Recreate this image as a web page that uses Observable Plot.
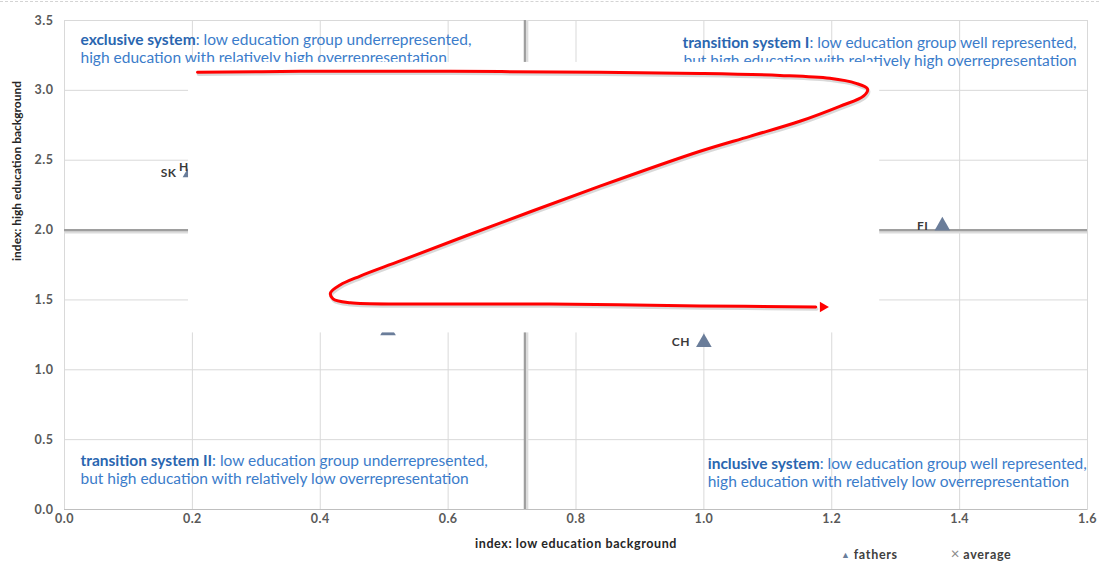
<!DOCTYPE html>
<html><head><meta charset="utf-8">
<script src="https://cdn.jsdelivr.net/npm/d3@7"></script>
<script src="https://cdn.jsdelivr.net/npm/@observablehq/plot@0.6"></script>
<style>
body{margin:0;background:#fff;}
#wrap{position:relative;width:1099px;height:563px;overflow:hidden;}
#topline{position:absolute;left:0;top:1px;width:1099px;border-top:1px dashed #d4d4d4;}
#legend{position:absolute;top:546px;left:841px;font:bold 12.5px Lato, sans-serif;letter-spacing:0.7px;line-height:14px;color:#404040;white-space:nowrap;}
#legend .tri{color:#6a7d9a;font-size:9px;vertical-align:1px;letter-spacing:0;}
#legend .x{color:#8a8a8a;font-size:15px;font-weight:normal;letter-spacing:0;}
</style></head><body>
<div id="wrap"><div id="topline"></div><div id="chart"></div>
<div id="legend"><span class="tri">&#9650;</span> fathers<span style="display:inline-block;width:53px"></span><span class="x">&times;</span> average</div>
</div>
<script>
// ---- data ----
const xTicks = [0, 0.2, 0.4, 0.6, 0.8, 1.0, 1.2, 1.4, 1.6];
const yTicks = [0, 0.5, 1.0, 1.5, 2.0, 2.5, 3.0, 3.5];
const countries = ["SK", "HU", "", "CH", "FI"];
const lowEdu  = [0.197, 0.231, 0.506, 1.00, 1.373];
const highEdu = [2.41, 2.45, 1.28, 1.195, 2.03];
const avgLow = [0.72];
const avgHigh = [2.0];
const xLabel = "index: low education background";
const yLabel = "index: high education background";
const quadTitle = ["exclusive system", "transition system I", "transition system II", "inclusive system"];
const quadRest1 = [": low education group underrepresented,", ": low education group well represented,", ": low education group underrepresented,", ": low education group well represented,"];
const quadLine2 = ["high education with relatively high overrepresentation", "but high education with relatively high overrepresentation", "but high education with relatively low overrepresentation", "high education with relatively low overrepresentation"];
const quadX = [0.025, 1.583, 0.025, 1.006];
const quadY = [3.30, 3.277, 0.285, 0.265];
const quadSide = ["start", "end", "start", "start"];
// white cover box (data coordinates)
const coverX = [0.194, 1.275];
const coverY = [1.264, 3.2];
// red scribble (data coordinates)
const scribX = [0.208,0.369,0.603,0.8375,0.994,1.119,1.197,1.238,1.256,1.25,1.2125,1.15,1.072,0.994,0.8375,0.681,0.525,0.4625,0.431,0.416,0.42,0.447,0.556,0.759,0.994,1.175];
const scribY = [3.129,3.136,3.136,3.129,3.121,3.107,3.086,3.05,3.01,2.96,2.886,2.779,2.671,2.564,2.314,2.05,1.779,1.671,1.607,1.55,1.507,1.479,1.471,1.471,1.457,1.45];
const arrowTip = {x: 1.183, y: 1.45};

const points = countries.map((c, i) => ({c, x: lowEdu[i], y: highEdu[i]}));
const quads = quadTitle.map((t, i) => ({t, text: t + quadRest1[i] + "\n" + quadLine2[i], x: quadX[i], y: quadY[i], side: quadSide[i]}));
const scrib = scribX.map((x, i) => ({x, y: scribY[i]}));

const fmt = d3.format(".1f");
const font = "Lato, 'Open Sans', sans-serif";
const qStyle = {fontSize: 15.5, fill: "#3b7cca", lineHeight: 1.16, lineAnchor: "middle", fontFamily: font};

const plot = Plot.plot({
  width: 1099, height: 563,
  marginTop: 20, marginRight: 12, marginBottom: 54, marginLeft: 64,
  style: {fontFamily: font, background: "transparent", overflow: "visible"},
  x: {domain: [0, 1.6]},
  y: {domain: [0, 3.5]},
  marks: [
    Plot.gridX(xTicks, {stroke: "#d9d9d9", strokeOpacity: 1}),
    Plot.gridY(yTicks, {stroke: "#d9d9d9", strokeOpacity: 1}),
    Plot.frame({stroke: "#d9d9d9"}),
    Plot.ruleY([0], {stroke: "#bfbfbf"}),
    Plot.axisX({ticks: xTicks, tickFormat: fmt, tickSize: 0, tickPadding: 5, fontSize: 12.5, fontWeight: "bold", fill: "#595959", label: null}),
    Plot.axisY({ticks: yTicks, tickFormat: fmt, tickSize: 0, tickPadding: 11, fontSize: 12.5, fontWeight: "bold", fill: "#595959", label: null}),
    Plot.text([xLabel], {frameAnchor: "bottom", dy: 38, fontSize: 12.5, fontWeight: "bold", fill: "#262626", fontFamily: font}),
    Plot.text([yLabel], {frameAnchor: "left", dx: -47, dy: -4, rotate: -90, fontSize: 12, fontWeight: "bold", fill: "#262626", fontFamily: font}),
    // average cross lines
    Plot.ruleX(avgLow, {stroke: "#dcdcdc", strokeWidth: 4, dx: 1.5}),
    Plot.ruleY(avgHigh, {stroke: "#dcdcdc", strokeWidth: 4, dy: 1.5}),
    Plot.ruleX(avgLow, {stroke: "#9e9e9e", strokeWidth: 2.2}),
    Plot.ruleY(avgHigh, {stroke: "#9e9e9e", strokeWidth: 2.2}),
    // quadrant notes
    Plot.text(quads.filter(d => d.side === "start"), {x: "x", y: "y", text: "text", textAnchor: "start", ...qStyle}),
    Plot.text(quads.filter(d => d.side === "end"), {x: "x", y: "y", text: "text", textAnchor: "end", ...qStyle}),
    // fathers points
    Plot.dot(points, {x: "x", y: "y", symbol: "triangle", r: 5.8, fill: "#6a7d9a", stroke: "none"}),
    Plot.text(points, {x: "x", y: "y", text: "c", textAnchor: "end", dx: -14, fontSize: 12, fontWeight: "bold", fill: "#3a3a3a", fontFamily: font}),
    // cover box
    Plot.rect([0], {x1: () => coverX[0], x2: () => coverX[1], y1: () => coverY[0], y2: () => coverY[1], fill: "white"}),
    // red scribble with shadow
    Plot.line(scrib, {x: "x", y: "y", curve: "catmull-rom", stroke: "#000", strokeOpacity: 0.15, strokeWidth: 3.5, dx: 1, dy: 2}),
    Plot.line(scrib, {x: "x", y: "y", curve: "catmull-rom", stroke: "#f00", strokeWidth: 3}),
    Plot.dot([arrowTip], {x: "x", y: "y", symbol: "triangle2", rotate: 90, r: 5, fill: "#f00", stroke: "none", dx: 2})
  ]
});

// letter spacing to mimic the wide face of the original
plot.querySelectorAll("g[aria-label='x-axis tick label'] text, g[aria-label='y-axis tick label'] text").forEach(t => t.setAttribute("letter-spacing", "0.5"));

// make quadrant titles bold, and widen labels slightly
plot.querySelectorAll("text").forEach(t => {
  if (t.textContent === xLabel) t.setAttribute("letter-spacing", "0.6");
  if (countries.includes(t.textContent) && t.textContent) t.setAttribute("letter-spacing", "0.5");
});
plot.querySelectorAll("text tspan").forEach(ts => {
  const s = ts.textContent;
  const t = quadTitle.filter(q => s.startsWith(q + ":")).sort((a, b) => b.length - a.length)[0];
  if (!t) return;
  ts.textContent = "";
  const b = document.createElementNS("http://www.w3.org/2000/svg", "tspan");
  b.setAttribute("font-weight", "bold");
  b.setAttribute("fill", "#2a66b0");
  b.textContent = t;
  ts.appendChild(b);
  ts.appendChild(document.createTextNode(s.slice(t.length)));
});

document.getElementById("chart").appendChild(plot);
</script>
</body></html>
